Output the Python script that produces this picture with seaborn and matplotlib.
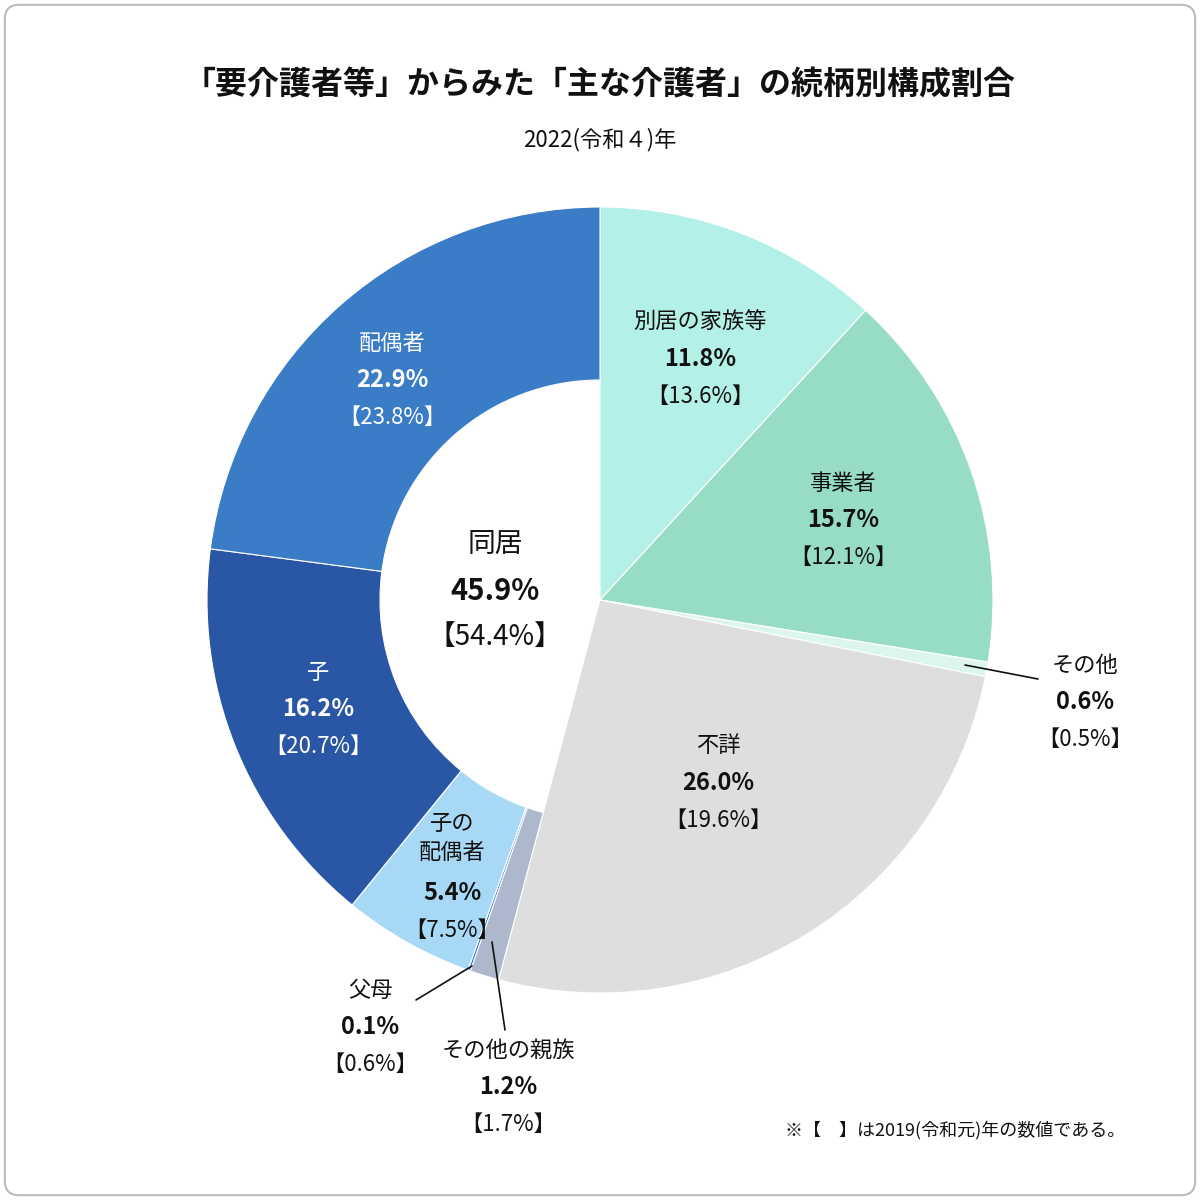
import matplotlib
matplotlib.use("Agg")
import matplotlib.pyplot as plt
from matplotlib.patches import FancyBboxPatch
import seaborn as sns

sns.set_theme(style="white")
plt.rcParams["font.family"] = "Noto Sans CJK JP"

categories = ["別居の家族等", "事業者", "その他", "不詳", "その他の親族", "父母", "子の\n配偶者", "子", "配偶者"]
values_2022 = [11.8, 15.7, 0.6, 26.0, 1.2, 0.1, 5.4, 16.2, 22.9]
values_2019 = [13.6, 12.1, 0.5, 19.6, 1.7, 0.6, 7.5, 20.7, 23.8]
cohabiting = [False, False, False, False, True, True, True, True, True]
colors = ["#b3f0e8", "#97ddc5", "#dcf6ec", "#dedede", "#adb8cc", "#2f6fd0", "#a7d9f6", "#2a57a5", "#3a7cc6"]
center_label = "同居"
center_2022 = 45.9
center_2019 = 54.4

fig = plt.figure(figsize=(12, 12), dpi=100)
fig.patches.append(FancyBboxPatch((0.004, 0.004), 0.992, 0.992, boxstyle="round,pad=0,rounding_size=0.012",
                                  transform=fig.transFigure, facecolor="none", edgecolor="#bbbbbb", lw=1.5))

R = 393
ax = fig.add_axes([(600 - R) / 1200, (600 - R) / 1200, 2 * R / 1200, 2 * R / 1200])
wedges, _ = ax.pie(values_2022, colors=colors, startangle=90, counterclock=False, radius=1,
                   wedgeprops=dict(linewidth=0.8, edgecolor="white"))
for w, c in zip(wedges, cohabiting):
    if c:
        w.set_width(1 - 220 / R)
ax.set_xlim(-1, 1)
ax.set_ylim(-1, 1)
ax.set_aspect("equal")
ax.axis("off")


def d(px, py):
    return ((px - 600) / R, (600 - py) / R)


def label(px, py, name, v, old, color="#111111"):
    x, y = d(px, py)
    step = 37 / R
    nlines = name.count("\n") + 1
    ax.text(x, y, name, ha="center", va="center", fontsize=16, color=color, linespacing=1.3)
    off = (nlines - 1) * step / 2 + step
    ax.text(x, y - off, f"{v}%", ha="center", va="center", fontsize=17, fontweight="bold", color=color)
    ax.text(x, y - off - step, f"【{old}%】", ha="center", va="center", fontsize=16, color=color)


label(700, 322, categories[0], values_2022[0], values_2019[0])
label(843, 483, categories[1], values_2022[1], values_2019[1])
label(1085, 665, categories[2], values_2022[2], values_2019[2])
label(718, 746, categories[3], values_2022[3], values_2019[3])
label(508, 1050, categories[4], values_2022[4], values_2019[4])
label(370, 990, categories[5], values_2022[5], values_2019[5])
label(452, 838, categories[6], values_2022[6], values_2019[6])
label(318, 672, categories[7], values_2022[7], values_2019[7], color="white")
label(392, 343, categories[8], values_2022[8], values_2019[8], color="white")

# center label (同居)
x, y = d(495, 545)
ax.text(x, y, center_label, ha="center", va="center", fontsize=20, color="#111111")
ax.text(x, y - 46 / R, f"{center_2022}%", ha="center", va="center", fontsize=21, fontweight="bold", color="#111111")
ax.text(x, y - 92 / R, f"【{center_2019}%】", ha="center", va="center", fontsize=20, color="#111111")

# leader lines
for (x0, y0), (x1, y1) in [((965, 665), (1038, 679)), ((472, 966), (416, 1000)), ((492, 942), (505, 1030))]:
    a, b = d(x0, y0)
    c, e = d(x1, y1)
    ax.plot([a, c], [b, e], color="#111111", lw=1.2, clip_on=False)

fig.text(0.5, 1 - 85 / 1200, "「要介護者等」からみた「主な介護者」の続柄別構成割合",
         ha="center", va="center", fontsize=23, fontweight="bold", color="#111111")
fig.text(0.5, 1 - 140 / 1200, "2022(令和４)年", ha="center", va="center", fontsize=16, color="#111111")
fig.text(1125 / 1200, 1 - 1130 / 1200, "※【　】は2019(令和元)年の数値である。",
         ha="right", va="center", fontsize=13, color="#111111")

fig.savefig("out.png", dpi=100)
